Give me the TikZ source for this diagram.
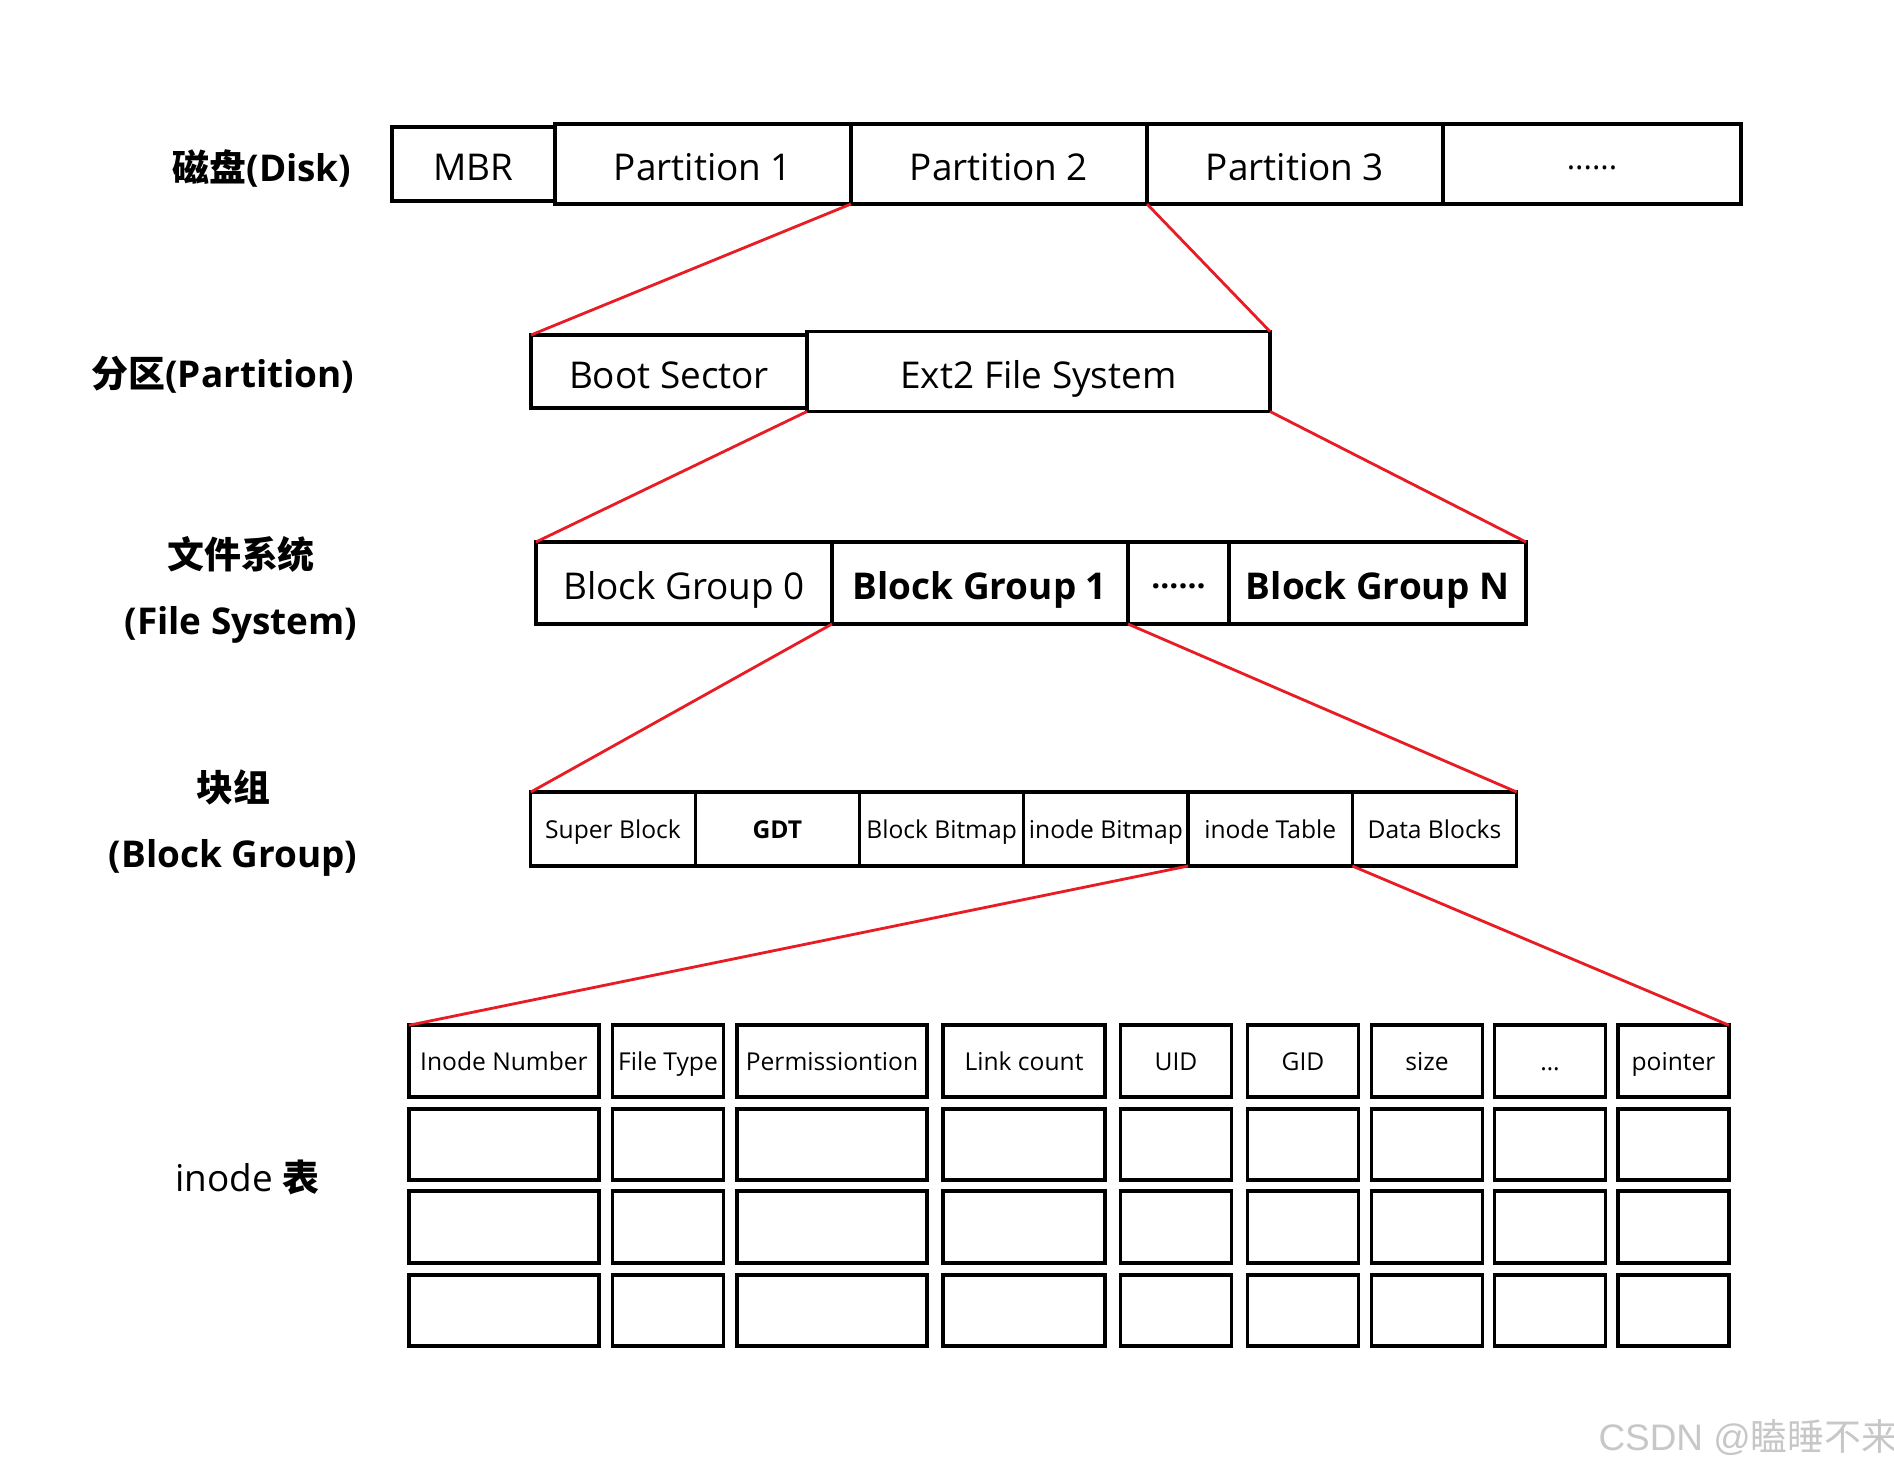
\documentclass[tikz,border=0pt]{standalone}
\usepackage{fontspec}
\setmainfont{Open Sans}
\newfontfamily\cjk{Noto Sans CJK SC}
\newfontfamily\wmfont{Liberation Sans}
\usetikzlibrary{positioning}
\definecolor{cutred}{RGB}{232,28,36}
\newcommand{\fsL}{\fontsize{10.5}{12.6}\selectfont}
\newcommand{\fsM}{\fontsize{9}{10.8}\selectfont}
\newcommand{\fsS}{\fontsize{7}{8.4}\selectfont}
\tikzset{blk/.style={draw,line width=.9pt,inner sep=0pt,outer sep=0pt,minimum height=8mm,font=\fsL,text height=9.6pt,text depth=0pt},
 sub/.style={blk,minimum width=16.43mm,minimum height=7.4mm,font=\fsS,text height=5.4pt,text depth=0pt},
 cell/.style={draw,line width=1.1pt,inner sep=0pt,outer sep=0pt,minimum height=7.15mm,font=\fsS,text height=5.2pt,text depth=0pt},
 dots/.style={text height=3.2pt},
 cut/.style={draw=cutred,line width=.8pt},
 lbl/.style={font=\fsL\bfseries,align=center}}

\begin{document}
\begin{tikzpicture}[x=1cm,y=1cm]
\useasboundingbox (0,0) rectangle (18.94,-14.69);
% row labels
\node[lbl](ldisk) at (2.62,-1.68){{\cjk 磁盘}(Disk)};
\node[lbl](lpart) at (2.23,-3.75){{\cjk 分区}(Partition)};
\node[lbl](lfs) at (2.41,-5.90){{\cjk 文件系统}\\[2.2mm](File System)};
\node[lbl](lbg) at (2.33,-8.23){{\cjk 块组}\\[2.2mm](Block Group)};
\node[font=\fsL](lino) at (2.475,-11.77){inode {\cjk\bfseries 表}};
% disk
\node[blk,minimum width=16.3mm,minimum height=7.4mm](mbr) at (4.735,-1.64){MBR};
\node[blk,minimum width=29.6mm,right=0pt of mbr](p1){Partition 1};
\node[blk,minimum width=29.6mm,right=0pt of p1](p2){Partition 2};
\node[blk,minimum width=29.6mm,right=0pt of p2](p3){Partition 3};
\node[blk,dots,minimum width=29.8mm,right=0pt of p3,font=\fsM](pdots){......};
% partition
\node[blk,minimum width=27.6mm,minimum height=7.3mm](boot) at (6.69,-3.715){Boot Sector};
\node[blk,minimum width=46.3mm,right=0pt of boot](ext){Ext2 File System};
\draw[cut](p2.south west)--(boot.north west);
\draw[cut](p2.south east)--(ext.north east);
% file system
\node[blk,minimum width=29.6mm,minimum height=8.2mm](bg0) at (6.84,-5.83){Block Group 0};
\node[blk,minimum width=29.6mm,minimum height=8.2mm,right=0pt of bg0,font=\fsL\bfseries](bg1){Block Group 1};
\node[blk,dots,minimum width=10.1mm,minimum height=8.2mm,right=0pt of bg1,font=\fsM\bfseries](bgdots){......};
\node[blk,minimum width=29.7mm,minimum height=8.2mm,right=0pt of bgdots,font=\fsL\bfseries](bgn){Block Group N};
\draw[cut](ext.south west)--(bg0.north west);
\draw[cut](ext.south east)--(bgn.north east);
% block group
\node[sub](sb) at (6.13,-8.29){Super Block};
\node[sub,right=0pt of sb,font=\fsS\bfseries](gdt){GDT};
\node[sub,right=0pt of gdt](bbm){Block Bitmap};
\node[sub,right=0pt of bbm](ibm){inode Bitmap};
\node[sub,right=0pt of ibm](itab){inode Table};
\node[sub,right=0pt of itab](data){Data Blocks};
\draw[cut](bg1.south west)--(sb.north west);
\draw[cut](bg1.south east)--(data.north east);
% inode table
\foreach \x/\w/\t [count=\i] in {5.04/1.90/Inode Number,6.68/1.11/File Type,8.32/1.90/Permissiontion,
  10.24/1.62/Link count,11.76/1.11/UID,13.03/1.11/GID,14.27/1.11/size,15.50/1.11/{…},16.735/1.11/pointer}{
  \node[cell,minimum width=\w cm](t\i-1) at (\x,-10.61){\t};
  \foreach \y [count=\r from 2] in {11.445,12.27,13.105}
    \node[cell,minimum width=\w cm](t\i-\r) at (\x,-\y){};
}
\draw[cut](itab.south west)--(t1-1.north west);
\draw[cut](itab.south east)--(t9-1.north east);
% watermark
\node[font=\fsL,text=black!22](wm) at (17.485,-14.38){{\wmfont CSDN @}{\cjk 瞌睡不来}};
\end{tikzpicture}
\end{document}
